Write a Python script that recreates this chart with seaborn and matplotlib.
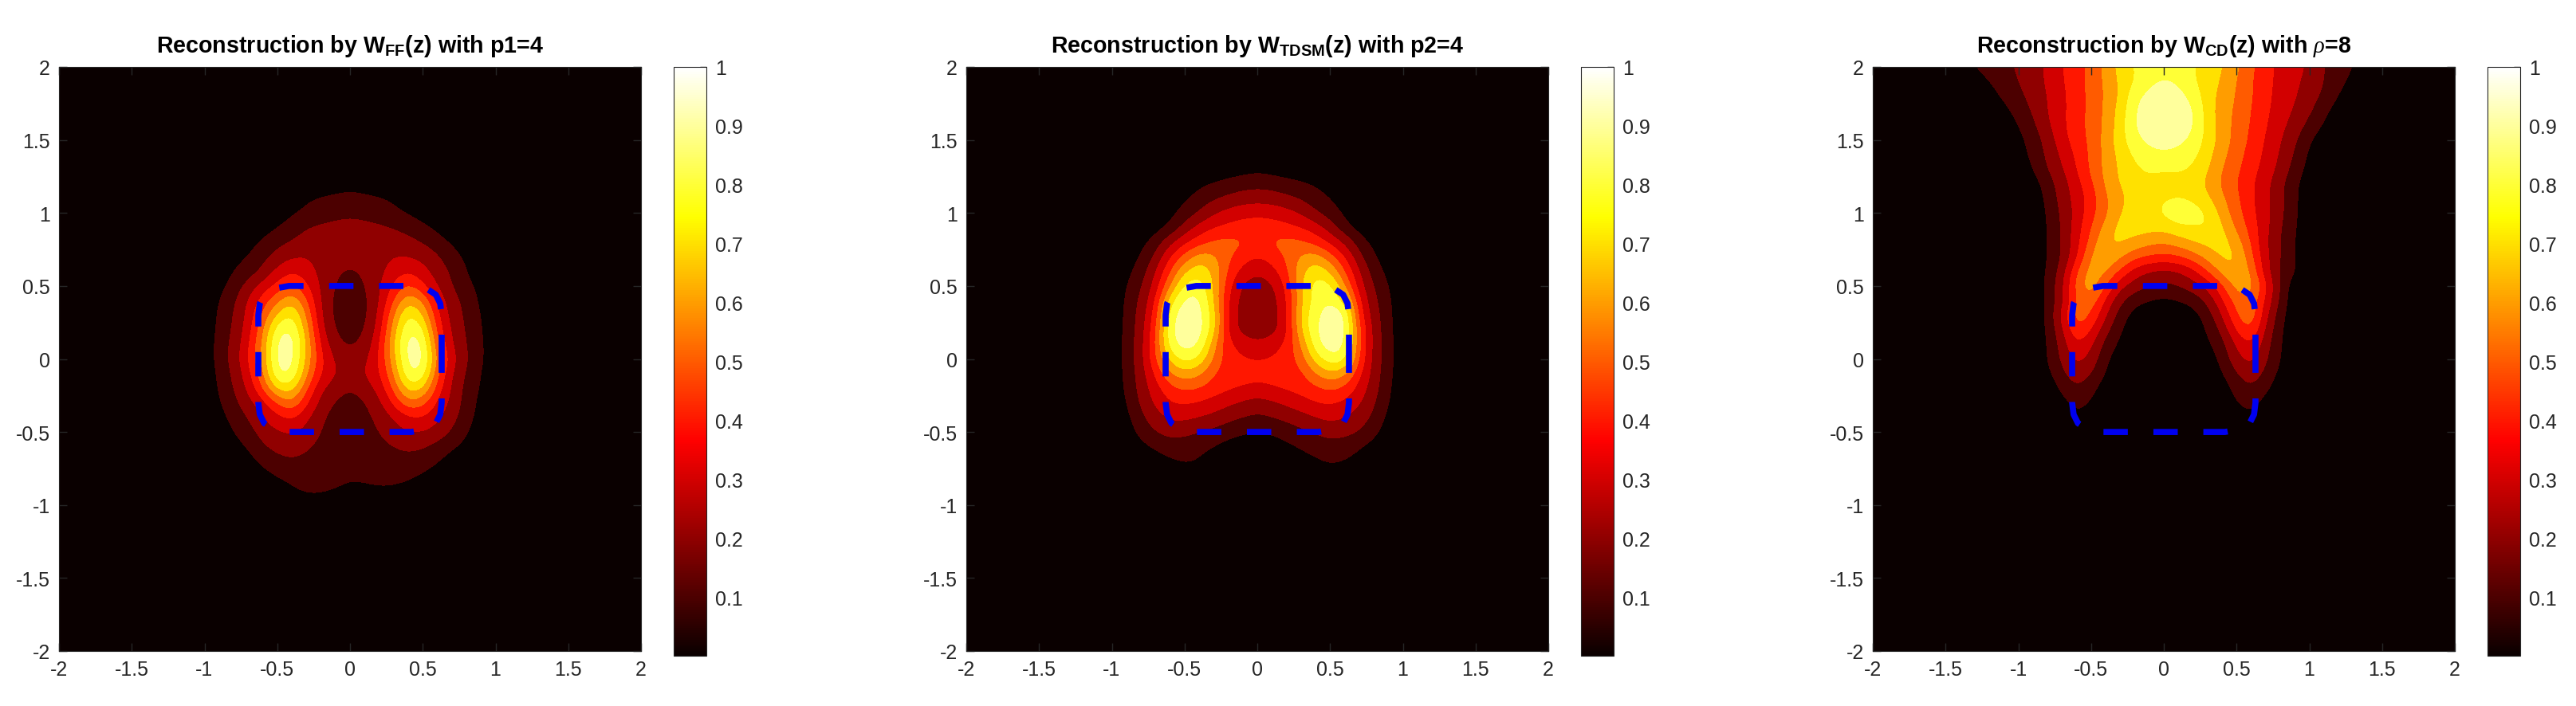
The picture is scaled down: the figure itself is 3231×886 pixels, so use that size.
import numpy as np
import matplotlib
matplotlib.use("Agg")
import matplotlib.pyplot as plt
from matplotlib.colors import BoundaryNorm, ListedColormap, Normalize
from matplotlib.cm import ScalarMappable
import seaborn as sns

TITLES = [r"Reconstruction by W$_{\mathbf{FF}}$(z) with p1=4",
          r"Reconstruction by W$_{\mathbf{TDSM}}$(z) with p2=4",
          r"Reconstruction by W$_{\mathbf{CD}}$(z) with $\rho$=8"]
TICKS = [-2, -1.5, -1, -0.5, 0, 0.5, 1, 1.5, 2]
TICK_LABELS = ["-2", "-1.5", "-1", "-0.5", "0", "0.5", "1", "1.5", "2"]
CBAR_TICKS = [0.1, 0.2, 0.3, 0.4, 0.5, 0.6, 0.7, 0.8, 0.9, 1]
CBAR_LABELS = ["0.1", "0.2", "0.3", "0.4", "0.5", "0.6", "0.7", "0.8", "0.9", "1"]
LEVELS = [0, .1, .2, .3, .4, .5, .6, .7, .8, .9, 1.0]

# field samples in percent, 0.1 grid; rows listed from top to bottom
P1_X0, P1_Y_TOP = -1.0, 1.2
P1 = [
 [1,1,1,1,1,1,2,3,4,6,7,6,4,3,2,1,1,1,1,1,1],
 [1,1,1,1,1,2,4,9,11,12,13,12,11,9,5,2,1,1,1,1,1],
 [1,1,1,1,2,5,9,12,15,17,18,17,15,12,9,6,3,1,1,1,1],
 [1,1,1,2,5,10,14,20,22,23,24,23,22,20,17,12,8,3,1,1,1],
 [1,1,2,6,12,17,21,25,26,25,25,25,26,25,23,20,14,9,4,1,1],
 [1,2,7,10,17,24,29,30,26,23,22,23,26,30,30,27,22,14,8,3,1],
 [1,4,10,15,22,33,40,35,27,21,19,21,27,35,40,34,25,19,10,4,1],
 [1,7,14,24,34,43,52,42,28,19,17,19,28,42,52,42,30,20,13,7,1],
 [2,10,18,31,45,58,70,52,29,17,15,17,29,50,70,60,37,24,17,8,1],
 [2,12,20,33,52,72,83,60,30,17,14,17,31,60,83,72,42,26,18,10,2],
 [2,13,21,35,58,88,92,66,33,19,15,19,34,66,91,85,46,28,19,11,2],
 [3,14,23,38,62,94,97,70,38,23,18,23,38,70,96,93,52,30,20,12,2],
 [3,14,24,40,62,95,95,68,42,28,24,27,40,66,95,95,58,34,21,12,2],
 [3,12,22,36,58,92,92,62,40,30,27,30,38,60,91,89,52,30,19,10,2],
 [2,11,20,32,50,74,76,52,31,25,20,25,33,52,76,72,46,28,17,9,2],
 [2,9,17,26,36,50,60,42,26,19,15,19,27,42,58,54,38,27,16,7,1],
 [1,6,14,20,30,37,42,32,22,16,13,17,23,30,38,40,32,24,14,6,1],
 [1,3,10,16,24,29,31,27,20,14,11,15,20,26,30,30,26,19,11,4,1],
 [1,1,6,11,19,23,25,22,17,13,11,14,17,20,22,21,17,12,7,1,1],
 [1,1,1,6,13,17,19,17,14,13,12,13,14,16,17,15,11,5,1,1,1],
 [1,1,1,1,6,11,13,14,14,13,11,12,13,14,13,9,5,1,1,1,1],
 [1,1,1,1,1,4,9,12,12,10,8,8,9,8,5,2,1,1,1,1,1],
 [1,1,1,1,1,1,2,4,4,2,2,2,2,2,1,1,1,1,1,1,1],
]
P2_X0, P2_Y_TOP = -1.0, 1.3
P2 = [
 [1,1,1,1,1,1,1,2,4,6,8,6,4,2,1,1,1,1,1,1,1],
 [1,1,1,1,1,3,8,11,14,16,17,16,14,12,9,5,2,1,1,1,1],
 [1,1,1,1,3,9,14,19,22,25,26,25,22,19,14,10,4,1,1,1,1],
 [1,1,1,2,7,14,21,29,34,37,38,37,34,29,21,15,8,2,1,1,1],
 [1,1,1,6,12,24,34,40,43,45,46,45,43,40,35,25,13,6,1,1,1],
 [1,1,7,15,28,38,46,52,54,52,46,52,54,52,46,38,28,15,7,1,1],
 [1,4,11,22,40,54,66,62,52,44,40,44,52,62,66,54,40,22,11,4,1],
 [1,7,15,30,50,70,78,68,48,36,31,36,48,68,78,70,50,30,15,7,1],
 [1,10,19,34,60,84,86,70,42,28,24,28,42,70,86,84,60,34,19,10,1],
 [1,12,22,40,78,93,94,70,38,26,19,26,38,70,85,90,78,40,22,12,1],
 [1,13,24,44,88,96,95,76,37,25,18,25,37,74,88,97,95,44,24,13,1],
 [2,13,25,48,90,97,96,75,36,26,22,26,36,72,90,98,95,50,26,13,2],
 [2,14,26,50,88,95,92,62,42,36,33,36,42,60,88,97,93,50,26,14,2],
 [2,14,26,50,73,86,78,58,44,41,40,41,44,55,75,88,85,48,26,14,2],
 [2,13,25,42,60,66,62,50,44,43,43,43,44,47,60,68,62,42,25,13,2],
 [2,12,24,36,47,52,50,45,42,40,38,40,42,44,48,52,48,36,24,12,1],
 [1,10,22,32,40,41,39,36,32,28,25,28,32,36,40,41,38,31,21,10,1],
 [1,7,18,26,32,32,30,27,23,20,18,20,23,26,30,33,30,25,18,7,1],
 [1,4,14,20,24,23,20,17,14,11,10,11,14,18,21,24,23,20,13,4,1],
 [1,1,7,12,15,14,12,10,6,4,4,5,8,11,14,16,15,11,6,1,1],
 [1,1,1,5,9,12,10,5,2,1,1,2,3,6,9,12,10,6,1,1,1],
 [1,1,1,1,1,3,3,1,1,1,1,1,1,1,2,4,3,1,1,1,1],
]
P3_X0, P3_Y_TOP = -1.4, 2.0
P3 = [
 [3,11,14,18,21,27,31,40,46,53,63,74,81,85,87,85,81,76,71,62,52,44,37,33,29,20,14,11,3],
 [1,5,10,15,20,26,31,39,46,53,62,72,80,88,91,89,81,75,69,60,51,43,37,32,27,20,14,7,1],
 [1,1,6,12,17,24,30,38,45,53,61,71,88,93,96,94,87,74,67,59,51,43,36,31,25,18,10,2,1],
 [1,1,2,7,14,21,30,38,45,53,62,74,90,96,97,96,92,75,65,58,50,42,35,29,22,13,5,1,1],
 [1,1,1,3,10,18,28,38,46,53,62,75,91,96,97,96,92,76,65,57,49,41,33,26,17,9,2,1,1],
 [1,1,1,1,7,14,24,36,45,52,64,76,87,93,94,93,88,76,66,56,48,39,31,22,11,4,1,1,1],
 [1,1,1,1,5,13,22,32,42,52,63,73,82,87,89,87,83,74,63,54,46,38,29,19,8,2,1,1,1],
 [1,1,1,1,2,10,20,29,40,52,63,72,78,82,80,81,79,71,60,52,44,36,27,16,6,1,1,1,1],
 [1,1,1,1,1,5,15,25,36,48,62,71,76,77,76,77,75,68,58,50,42,33,23,12,4,1,1,1,1],
 [1,1,1,1,1,2,13,24,34,44,59,67,75,77,79,80,78,72,62,52,42,33,23,12,3,1,1,1,1],
 [1,1,1,1,1,2,11,22,33,46,58,70,76,77,82,88,86,80,66,54,43,33,23,12,2,1,1,1,1],
 [1,1,1,1,1,2,10,21,35,50,64,74,75,74,73,78,79,81,72,58,46,33,21,11,2,1,1,1,1],
 [1,1,1,1,1,2,10,21,36,54,70,72,67,63,61,65,70,73,75,66,49,31,20,10,2,1,1,1,1],
 [1,1,1,1,1,2,10,20,38,62,70,62,53,49,47,49,55,64,72,72,53,33,20,10,2,1,1,1,1],
 [1,1,1,1,1,2,11,24,50,66,62,48,35,29,27,29,36,50,64,71,60,33,19,11,2,1,1,1,1],
 [1,1,1,1,1,1,13,27,55,68,50,32,25,20,17,20,25,32,48,65,66,43,19,3,1,1,1,1,1],
 [1,1,1,1,1,1,12,26,52,58,38,22,13,10,8,10,13,22,38,56,58,38,18,2,1,1,1,1,1],
 [1,1,1,1,1,1,12,33,58,50,31,15,6,2,1,2,6,14,30,50,60,33,14,2,1,1,1,1,1],
 [1,1,1,1,1,1,11,28,50,41,23,11,3,1,1,1,3,11,22,42,52,28,12,1,1,1,1,1,1],
 [1,1,1,1,1,1,10,24,41,32,16,8,2,1,1,1,2,8,16,32,41,24,11,1,1,1,1,1,1],
 [1,1,1,1,1,1,10,22,34,27,12,4,1,1,1,1,1,4,13,27,34,22,10,1,1,1,1,1,1],
 [1,1,1,1,1,1,7,18,26,21,9,2,1,1,1,1,1,2,9,20,26,18,7,1,1,1,1,1,1],
 [1,1,1,1,1,1,2,13,20,14,4,1,1,1,1,1,1,1,4,14,20,13,3,1,1,1,1,1,1],
 [1,1,1,1,1,1,1,6,14,9,2,1,1,1,1,1,1,1,2,10,14,6,1,1,1,1,1,1,1],
 [1,1,1,1,1,1,1,1,9,4,1,1,1,1,1,1,1,1,1,4,9,2,1,1,1,1,1,1,1],
 [1,1,1,1,1,1,1,1,2,1,1,1,1,1,1,1,1,1,1,1,2,1,1,1,1,1,1,1,1],
]

# dashed rounded-rectangle boundary, starting at the right side
CURVE_X = [.63,.63,.62,.59,.53,.42,0,-.42,-.53,-.59,-.62,-.63,-.63,-.62,-.59,-.53,-.42,0,.42,.53,.59,.62,.63,.63]
CURVE_Y = [0,.3,.38,.44,.48,.5,.5,.5,.48,.44,.38,.3,-.3,-.38,-.44,-.48,-.5,-.5,-.5,-.48,-.44,-.38,-.3,0]

AX_LEFT_PX = [74, 1212, 2349]
AX_W_PX, AX_TOP_PX, AX_BOT_PX = 730, 85, 818
CB_OFF_PX, CB_W_PX, CB_BOT_PX = 771, 41, 824
W, H = 3231, 887

sns.set_theme(style="ticks")
plt.rcParams['font.family'] = ['Liberation Sans', 'DejaVu Sans']
plt.rcParams['mathtext.fontset'] = 'custom'
plt.rcParams['mathtext.bf'] = 'Liberation Sans:bold'
plt.rcParams['mathtext.rm'] = 'Liberation Sans'
plt.rcParams['mathtext.it'] = 'Liberation Serif:italic'

hot = sns.color_palette("hot", as_cmap=True)
band_cmap = ListedColormap([hot(v) for v in LEVELS[:-1]])
norm = BoundaryNorm(LEVELS, band_cmap.N, clip=True)
INK = "#262626"
FS = 18

def to_field(rows, x0, y_top):
    nodes = np.round(np.arange(-2, 2.01, 0.1), 1)
    field = np.zeros((41, 41))
    arr = np.array(rows) / 100
    i0 = int(np.argmin(abs(nodes - y_top)))
    j0 = int(np.argmin(abs(nodes - x0)))
    for r, row in enumerate(arr):
        field[i0 - r, j0:j0 + len(row)] = row
    return field

fig = plt.figure(figsize=(W / 100, H / 100), dpi=100, facecolor="white")
for left, title, rows, x0, ytop in zip(AX_LEFT_PX, TITLES, [P1, P2, P3],
                                       [P1_X0, P2_X0, P3_X0], [P1_Y_TOP, P2_Y_TOP, P3_Y_TOP]):
    ax = fig.add_axes([left / W, 1 - AX_BOT_PX / H, AX_W_PX / W, (AX_BOT_PX - AX_TOP_PX) / H])
    ax.imshow(to_field(rows, x0, ytop), origin="lower", extent=(-2.05, 2.05, -2.05, 2.05),
              cmap=band_cmap, norm=norm, interpolation="bicubic", interpolation_stage="data", aspect="auto")
    sns.lineplot(x=CURVE_X, y=CURVE_Y, sort=False, estimator=None, color="#0000f0", ax=ax, linewidth=5.5)
    line = ax.lines[-1]
    line.set_linestyle((0, (4.0, 4.2)))
    line.set_dash_capstyle("butt")
    ax.set_xlim(-2, 2); ax.set_ylim(-2, 2)
    ax.set_xlabel(""); ax.set_ylabel("")
    ax.set_xticks(TICKS, TICK_LABELS); ax.set_yticks(TICKS, TICK_LABELS)
    ax.tick_params(direction="in", top=True, right=True, length=7, width=1, color=INK, labelcolor=INK,
                   labelsize=FS, pad=8)
    for s in ax.spines.values():
        s.set_color(INK); s.set_linewidth(0.8)
    ax.set_title(title, fontsize=20.6, fontweight="bold", color="black", pad=14)
    cax = fig.add_axes([(left + CB_OFF_PX) / W, 1 - CB_BOT_PX / H, CB_W_PX / W, (CB_BOT_PX - AX_TOP_PX) / H])
    cb = fig.colorbar(ScalarMappable(Normalize(0, 1), hot), cax=cax)
    cb.set_ticks(CBAR_TICKS, labels=CBAR_LABELS)
    cb.ax.tick_params(direction="in", length=6, width=1, color=INK, labelcolor=INK, labelsize=FS, pad=8)
    cb.outline.set_edgecolor(INK); cb.outline.set_linewidth(0.8)

fig.savefig("out.png", dpi=100)
